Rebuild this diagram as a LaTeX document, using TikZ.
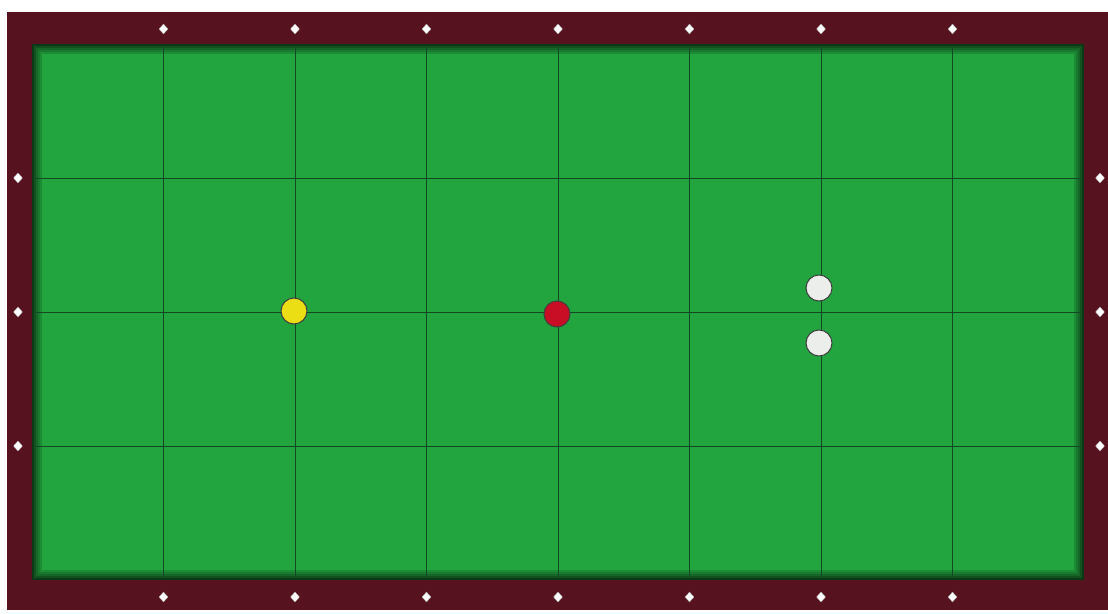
\documentclass[tikz,border=0pt]{standalone}
\usetikzlibrary{shapes.geometric}
\definecolor{rail}{RGB}{86,18,30}
\definecolor{cloth}{RGB}{34,164,62}
\definecolor{lines}{RGB}{20,72,36}
\definecolor{yball}{RGB}{236,222,20}
\definecolor{rball}{RGB}{200,14,36}
\definecolor{wball}{RGB}{236,238,236}
\tikzset{table/.style={
  x=0.02cm,y=-0.02cm,
  line join=round,line cap=round
},
spot/.style={diamond,fill=white,draw=gray!60,line width=0.2pt,inner sep=0pt,
  minimum width=0.18cm,minimum height=0.2cm},
ball/.style={circle,draw=black!75,line width=0.6pt,inner sep=0pt,minimum size=0.52cm},
gridline/.style={lines,line width=0.45pt}
}

\begin{document}
\begin{tikzpicture}[table]
  \useasboundingbox (0,0) rectangle (1108,614);
  % rail and cloth
  \fill[rail] (7,12) rectangle (1108,610);
  \foreach \i/\c in {0/35,1/50,2/62,3/74,4/86,5/100}
    \fill[cloth!\c!black] (32+2*\i,44+2*\i) rectangle (1084-2*\i,580-2*\i);
  \coordinate (TL) at (32,44);
  \coordinate (BR) at (1084,580);
  % grid
  \foreach \k in {1,...,7}
    \draw[gridline] (32+131.5*\k,48) -- (32+131.5*\k,576);
  \foreach \k in {1,2,3}
    \draw[gridline] (36,44+134*\k) -- (1080,44+134*\k);
  % diamonds on the rail
  \foreach \k in {1,...,7} {
    \node[spot] (top\k) at (32+131.5*\k,29) {};
    \node[spot] (bot\k) at (32+131.5*\k,597) {};
  }
  \foreach \k in {1,2,3} {
    \node[spot] (left\k) at (18,44+134*\k) {};
    \node[spot] (right\k) at (1100,44+134*\k) {};
  }
  % balls
  \node[ball,fill=yball] (yellow) at (294,311) {};
  \node[ball,fill=rball] (red) at (557,314) {};
  \node[ball,fill=wball] (white1) at (819,288) {};
  \node[ball,fill=wball] (white2) at (819,343) {};
\end{tikzpicture}
\end{document}
